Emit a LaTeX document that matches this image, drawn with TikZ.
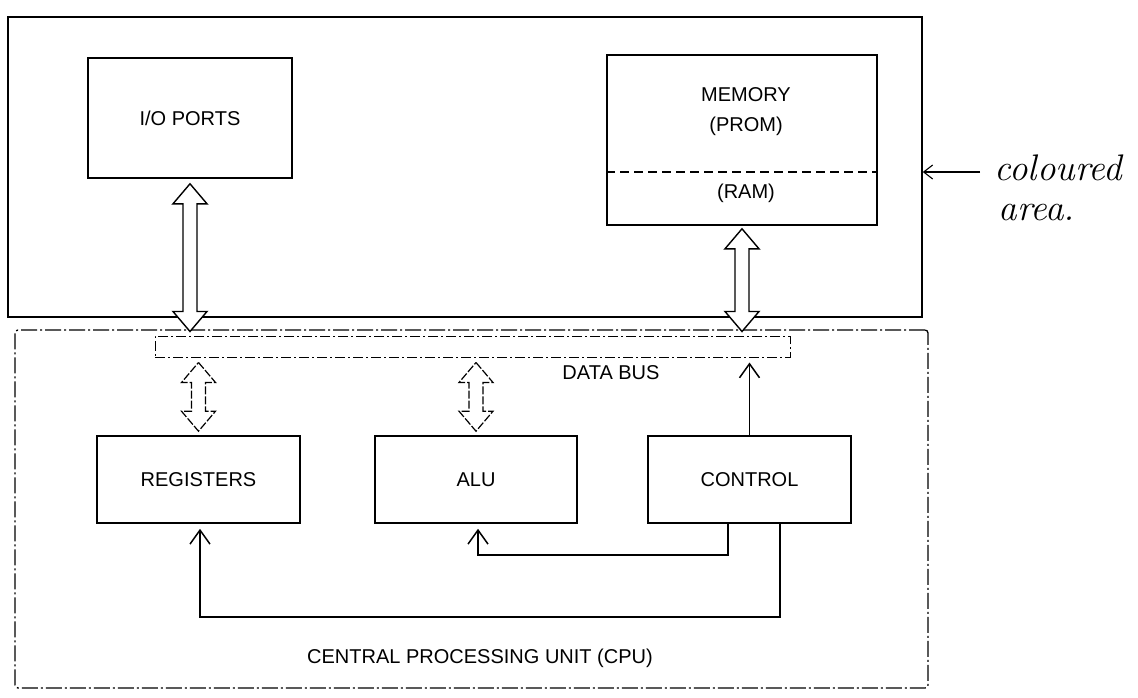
\documentclass[tikz,border=0pt]{standalone}
\usepackage{fontspec}
\setsansfont{Liberation Sans}
\usetikzlibrary{arrows.meta,calc}

% double-headed block arrow between an upper and a lower tip (same x)
\newcommand\busarrow[3][]{%
  \draw[blockarrow,#1] let \p1=(#2), \p2=(#3) in
    (\x1,\y1) -- (\x1+17pt,\y1-20pt) -- (\x1+7pt,\y1-20pt)
    -- (\x1+7pt,\y2+20pt) -- (\x1+17pt,\y2+20pt) -- (\x1,\y2)
    -- (\x1-17pt,\y2+20pt) -- (\x1-7pt,\y2+20pt)
    -- (\x1-7pt,\y1-20pt) -- (\x1-17pt,\y1-20pt) -- cycle;}

\begin{document}
\begin{tikzpicture}[x=1pt,y=-1pt,
  lbl/.style={font=\sffamily\fontsize{20}{24}\selectfont, align=center},
  unitbox/.style={draw, line width=1.6pt, lbl, inner sep=0pt},
  areabox/.style={draw, line width=1.6pt, inner sep=0pt},
  cpubox/.style={draw, line width=1.3pt, inner sep=0pt, rounded corners=3pt,
                 dash pattern=on 16pt off 3pt on 2pt off 3pt},
  busbox/.style={draw, line width=1pt, inner sep=0pt,
                 dash pattern=on 10pt off 3pt on 2pt off 3pt},
  divider/.style={line width=1.2pt, dash pattern=on 9pt off 5pt},
  blockarrow/.style={draw, line width=1.4pt, fill=white, line join=miter},
  faintarrow/.style={line width=1.2pt, dash pattern=on 8pt off 2pt},
  ctl/.style={line width=1.5pt, -{Straight Barb[length=14pt, width=20pt, line width=1.5pt]}},
  hand/.style={line width=1.1pt, font=\itshape\fontsize{37}{40}\selectfont}]

\fill[white] (0,0) rectangle (1138,698);
\useasboundingbox (0,0) rectangle (1138,698);

% outer areas
\node[areabox, minimum width=914pt, minimum height=300pt] (area) at (465,167) {};
\node[cpubox, minimum width=913pt, minimum height=358pt] (cpu) at (471.5,509) {};

% upper units
\node[unitbox, minimum width=204pt, minimum height=120pt] (io) at (190,118) {I/O PORTS};
\node[unitbox, minimum width=270pt, minimum height=170pt] (mem) at (742,140) {};
\node[lbl, inner sep=0pt] (memtop) at (746,112) {MEMORY\\[6pt](PROM)};
\node[lbl, inner sep=0pt] (ram) at (746,193) {(RAM)};
\draw[divider] (mem.west |- 0,172) -- (mem.east |- 0,172);

% data bus
\node[busbox, minimum width=635pt, minimum height=21pt] (bus) at (472.5,346.5) {};
\node[lbl, inner sep=0pt] (buslbl) at (611,373) {DATA BUS};

% CPU units
\node[unitbox, minimum width=203pt, minimum height=87pt] (reg) at (198.5,479.5) {REGISTERS};
\node[unitbox, minimum width=202pt, minimum height=87pt] (alu) at (476,479.5) {ALU};
\node[unitbox, minimum width=203pt, minimum height=87pt] (ctrl) at (749.5,479.5) {CONTROL};
\node[lbl, inner sep=0pt] (cpulbl) at (480,658) {CENTRAL PROCESSING UNIT (CPU)};

% bus links
\busarrow{$(io.south)+(0,5)$}{$(io.south |- bus.north)+(0,-4)$}
\busarrow{$(mem.south)+(0,3)$}{$(mem.south |- bus.north)+(0,-4)$}
\busarrow[faintarrow]{$(reg.north |- bus.south)+(0,5)$}{$(reg.north)+(0,-4)$}
\busarrow[faintarrow]{$(alu.north |- bus.south)+(0,5)$}{$(alu.north)+(0,-4)$}

% control lines
\draw[ctl] (ctrl.north) -- ($(ctrl.north |- bus.south)+(0,5)$);
\coordinate (c1) at (728,555);
\coordinate (c2) at (780,617);
\draw[ctl] (ctrl.south -| c1) -- (c1) -| ($(alu.south)+(2,5)$);
\draw[ctl] (ctrl.south -| c2) -- (c2) -| ($(reg.south)+(1.5,5)$);

% note on the upper area
\coordinate (note) at (980,172);
\draw[line width=1.1pt, -{Straight Barb[length=9pt, width=14pt, line width=1.1pt]}]
  (note) -- (area.east |- note);
\node[hand, anchor=west, inner sep=0pt] (notea) at (994,168) {coloured};
\node[hand, anchor=west, inner sep=0pt] (noteb) at (998,213) {area.};
\end{tikzpicture}
\end{document}
